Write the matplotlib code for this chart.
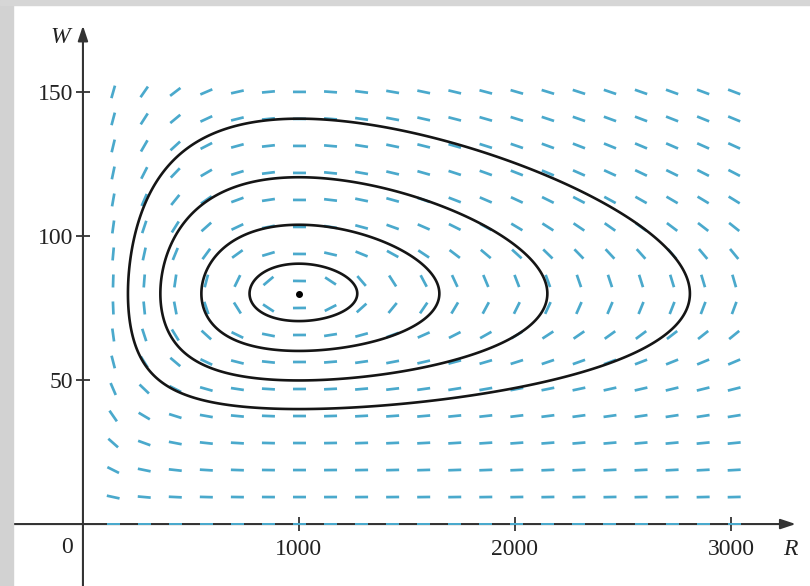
import numpy as np
import matplotlib.pyplot as plt
from matplotlib.patches import Rectangle

# модель хищник-жертва: dR/dt = a*R - b*R*W, dW/dt = -c*W + d*R*W
a, b, c, d = 0.08, 0.001, 0.02, 0.00002

# сетка поля направлений
R_grid = np.linspace(140, 3015, 21)
W_grid = np.linspace(0, 150, 17)

# точки пересечения траекторий с прямой W = 80 (справа)
R_orbit = [1270, 1650, 2150, 2810]
W_orbit = [80, 80, 80, 80]

eq_R, eq_W = 1000, 80

x_ticks = [1000, 2000, 3000]
y_ticks = [50, 100, 150]

plt.rcParams['font.family'] = ['Liberation Serif', 'DejaVu Serif']

fig = plt.figure(figsize=(8.1, 5.86), dpi=100)
ax = fig.add_axes([0, 0, 1, 1])
ax.set_xlim(-384, 3366)
ax.set_ylim(-21.5, 181.9)

# серая рамка по краям
fig.patches.append(Rectangle((0, 0), 13 / 810, 1, transform=fig.transFigure,
                             color='#d2d2d2', zorder=0))
fig.patches.append(Rectangle((0, 1 - 5 / 586), 1, 5 / 586, transform=fig.transFigure,
                             color='#d6d6d6', zorder=0))

# поле направлений
RR, WW = np.meshgrid(R_grid, W_grid)
dR = a * RR - b * RR * WW
dW = -c * WW + d * RR * WW
norm = np.hypot(dR, dW)
ax.quiver(RR, WW, dR / norm, dW / norm, angles='xy', scale_units='dots', scale=1 / 13,
          pivot='mid', units='dots', width=2.7, headwidth=0, headlength=0,
          headaxislength=0, color='#4aa9cc', zorder=2)

# траектории как линии уровня первого интеграла
def H(R, W):
    return d * R - c * np.log(R) + b * W - a * np.log(W)

Rf, Wf = np.meshgrid(np.linspace(100, 3200, 700), np.linspace(20, 170, 500))
levels = sorted(H(np.array(R_orbit), np.array(W_orbit)))
ax.contour(Rf, Wf, H(Rf, Wf), levels=levels, colors='#151515', linewidths=1.9,
           linestyles='solid', zorder=3)

ax.plot(eq_R, eq_W, 'o', color='black', markersize=4, zorder=4)

# оси со стрелками
for s in ax.spines.values():
    s.set_color('none')
ax.spines['left'].set_position(('data', 0))
ax.spines['bottom'].set_position(('data', 0))
ax.annotate('', xy=(3300, 0), xytext=(-330, 0),
            arrowprops=dict(arrowstyle='-|>,head_length=0.9,head_width=0.3',
                            color='#333333', lw=1.5, shrinkA=0, shrinkB=0), zorder=1)
ax.annotate('', xy=(0, 173), xytext=(0, -22),
            arrowprops=dict(arrowstyle='-|>,head_length=0.9,head_width=0.3',
                            color='#333333', lw=1.5, shrinkA=0, shrinkB=0), zorder=1)

ax.set_xticks(x_ticks)
ax.set_yticks(y_ticks)
ax.tick_params(direction='inout', length=10, width=1.3, color='#333333',
               labelsize=17, labelcolor='#222222')
ax.tick_params(axis='x', pad=6)
ax.tick_params(axis='y', pad=2)

ax.text(-74, -8, '0', fontsize=17, color='#222222', ha='center', va='center')
ax.text(-106, 169, 'W', fontsize=17, style='italic', color='#222222', ha='center', va='center')
ax.text(3273, -9, 'R', fontsize=17, style='italic', color='#222222', ha='center', va='center')

fig.savefig('out.png', dpi=100)
